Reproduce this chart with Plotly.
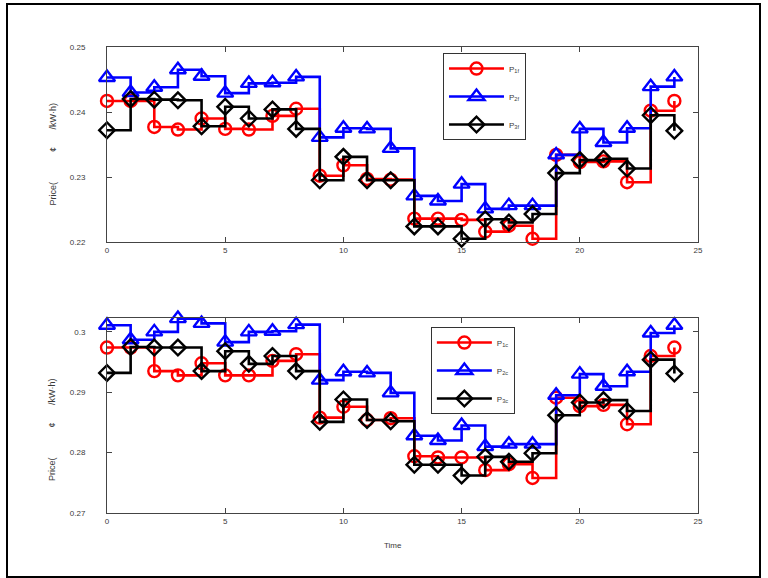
import plotly.graph_objects as go
from plotly.subplots import make_subplots

# Hourly time index
hours = list(range(25))

# Upper panel: prices P1f, P2f, P3f
p1f = [0.2417, 0.2417, 0.2377, 0.2373, 0.2390, 0.2374, 0.2373, 0.2394, 0.2405,
       0.2302, 0.2318, 0.2297, 0.2296, 0.2236, 0.2236, 0.2234, 0.2216, 0.2225,
       0.2205, 0.2334, 0.2323, 0.2324, 0.2292, 0.2402, 0.2417]
p2f = [0.2453, 0.2430, 0.2438, 0.2465, 0.2455, 0.2429, 0.2444, 0.2445, 0.2454,
       0.2361, 0.2375, 0.2374, 0.2344, 0.2271, 0.2263, 0.2289, 0.2251, 0.2256,
       0.2256, 0.2334, 0.2374, 0.2353, 0.2375, 0.2439, 0.2454]
p3f = [0.2372, 0.2420, 0.2419, 0.2418, 0.2378, 0.2408, 0.2390, 0.2404, 0.2374,
       0.2295, 0.2331, 0.2295, 0.2295, 0.2224, 0.2224, 0.2205, 0.2235, 0.2230,
       0.2243, 0.2306, 0.2326, 0.2328, 0.2313, 0.2395, 0.2371]

# Lower panel: prices P1c, P2c, P3c
p1c = [0.2974, 0.2974, 0.2935, 0.2928, 0.2948, 0.2928, 0.2928, 0.2952, 0.2963,
       0.2858, 0.2876, 0.2854, 0.2857, 0.2794, 0.2792, 0.2792, 0.2771, 0.2781,
       0.2758, 0.2891, 0.2877, 0.2879, 0.2847, 0.2960, 0.2974]
p2c = [0.3011, 0.2987, 0.3000, 0.3022, 0.3014, 0.2983, 0.3000, 0.3001, 0.3012,
       0.2920, 0.2934, 0.2932, 0.2899, 0.2828, 0.2820, 0.2845, 0.2810, 0.2814,
       0.2814, 0.2895, 0.2930, 0.2910, 0.2934, 0.2998, 0.3011]
p3c = [0.2932, 0.2975, 0.2974, 0.2974, 0.2935, 0.2968, 0.2947, 0.2960, 0.2935,
       0.2851, 0.2888, 0.2854, 0.2852, 0.2780, 0.2780, 0.2762, 0.2793, 0.2785,
       0.2799, 0.2862, 0.2883, 0.2887, 0.2869, 0.2954, 0.2931]

x_ticks = [0, 5, 10, 15, 20, 25]
top_ticks = [0.22, 0.23, 0.24, 0.25]
top_labels = ["0.22", "0.23", "0.24", "0.25"]
bot_ticks = [0.27, 0.28, 0.29, 0.30]
bot_labels = ["0.27", "0.28", "0.29", "0.3"]

FONT = "Liberation Sans, Arial, sans-serif"
TXT = "#3a3a3a"

styles = [
    ("#ff0000", "circle-open", 12),
    ("#0000ff", "triangle-up-open", 14),
    ("#000000", "diamond-open", 12),
]

fig = make_subplots(rows=2, cols=1, vertical_spacing=0.163)

top_series = [(p1f, "P<sub>1f</sub>"), (p2f, "P<sub>2f</sub>"), (p3f, "P<sub>3f</sub>")]
bot_series = [(p1c, "P<sub>1c</sub>"), (p2c, "P<sub>2c</sub>"), (p3c, "P<sub>3c</sub>")]

for row, series, leg in [(1, top_series, "legend"), (2, bot_series, "legend2")]:
    for (vals, name), (col, sym, sz) in zip(series, styles):
        fig.add_trace(
            go.Scatter(
                x=hours, y=vals, name=name, mode="lines+markers",
                line=dict(color=col, width=2.6, shape="hv"),
                marker=dict(symbol=sym, size=sz, color=col,
                            line=dict(color=col, width=2.4)),
                legend=leg, legendgroup=f"{leg}{name}",
                cliponaxis=False,
            ),
            row=row, col=1,
        )

axis_common = dict(
    showline=True, mirror="ticks", linecolor="#444", linewidth=1,
    ticks="inside", ticklen=5, tickcolor="#444", tickwidth=1,
    showgrid=False, zeroline=False,
    tickfont=dict(family=FONT, size=8, color=TXT),
)

fig.update_xaxes(range=[0, 25], tickvals=x_ticks, **axis_common)
fig.update_yaxes(range=[0.22, 0.25], tickvals=top_ticks, ticktext=top_labels,
                 ticklabelstandoff=19, row=1, col=1, **axis_common)
fig.update_yaxes(range=[0.27, 0.3023], tickvals=bot_ticks, ticktext=bot_labels,
                 ticklabelstandoff=19, row=2, col=1, **axis_common)

legend_common = dict(
    bgcolor="white", bordercolor="#333", borderwidth=1,
    font=dict(family=FONT, size=8, color=TXT),
    itemwidth=55, tracegroupgap=9, traceorder="grouped",
    xanchor="left", yanchor="top",
)

fig.update_layout(
    width=768, height=578,
    margin=dict(l=107, r=70, t=47, b=65),
    paper_bgcolor="white", plot_bgcolor="white",
    showlegend=True,
    legend=dict(x=0.5685, y=0.987, **legend_common),
    legend2=dict(x=0.548, y=0.399, **legend_common),
    font=dict(family=FONT, size=8, color=TXT),
)

sp = "&nbsp;"
ylabel = "Price(" + sp * 12 + "¢" + sp * 7 + "/kW·h)"
for yc in [(513 - 154.5) / 466, (513 - 430) / 466]:
    fig.add_annotation(
        text=ylabel, xref="paper", yref="paper", x=-0.093, y=yc,
        textangle=-90, showarrow=False, xanchor="center", yanchor="middle",
        font=dict(family=FONT, size=9, color=TXT),
    )

fig.add_annotation(
    text="Time", xref="paper", yref="paper", x=(393 - 107) / 591, y=(513 - 545) / 466,
    showarrow=False, xanchor="center", yanchor="middle",
    font=dict(family=FONT, size=8, color=TXT),
)

# Outer frame of the figure
fig.add_shape(
    type="rect", xref="paper", yref="paper",
    x0=(7 - 107) / 591, x1=(760 - 107) / 591,
    y0=(513 - 577) / 466, y1=(513 - 4) / 466,
    line=dict(color="black", width=2), fillcolor="rgba(0,0,0,0)", layer="below",
)

fig.write_html("out.html")
